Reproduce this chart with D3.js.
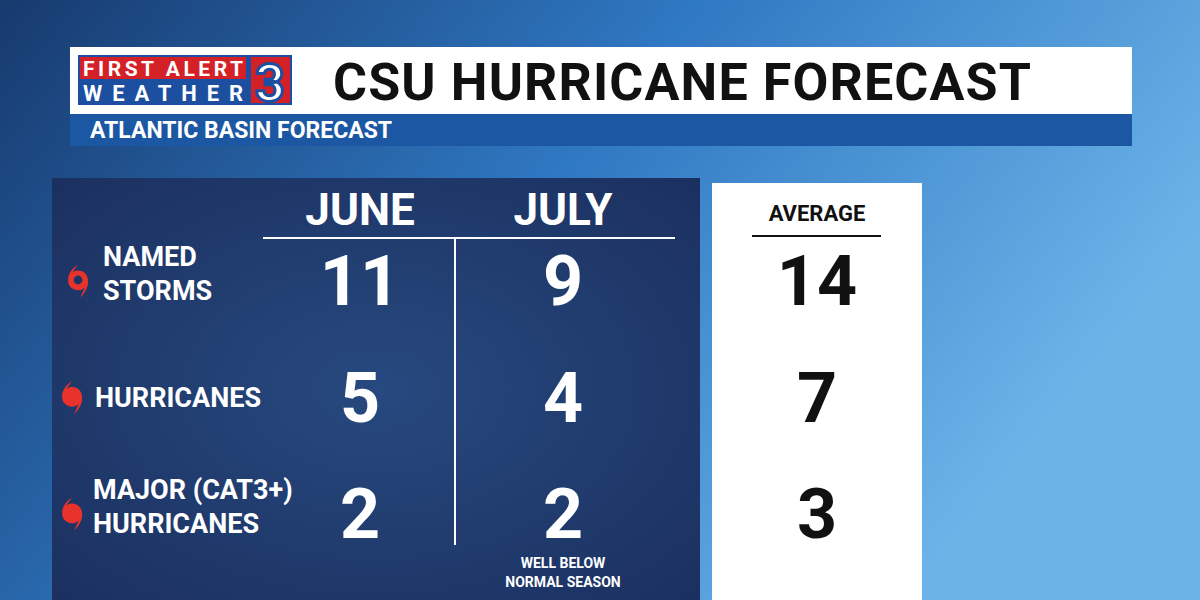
<!DOCTYPE html>
<html><head><meta charset="utf-8">
<script src="https://cdn.jsdelivr.net/npm/d3@7/dist/d3.min.js"></script>
<style>body{margin:0;overflow:hidden}svg{display:block}text{font-family:Roboto,"Open Sans",sans-serif;font-weight:700}</style>
</head><body><svg id="c" width="1200" height="600"></svg>
<script>
const categories = [["NAMED","STORMS"],["HURRICANES"],["MAJOR (CAT3+)","HURRICANES"]];
const columns = ["JUNE","JULY"];
const june = [11,5,2];
const july = [9,4,2];
const average = [14,7,3];
const note = ["WELL BELOW","NORMAL SEASON"];

const svg = d3.select("#c");
const defs = svg.append("defs");
const bg = defs.append("linearGradient").attr("id","bg").attr("x1",0).attr("x2",1).attr("y1",0).attr("y2",0.4);
bg.append("stop").attr("offset",0).attr("stop-color","#173a6e");
bg.append("stop").attr("offset",0.5).attr("stop-color","#2f78c2");
bg.append("stop").attr("offset",1).attr("stop-color","#6cb4e8");
const pn = defs.append("radialGradient").attr("id","pn").attr("cx",0.5).attr("cy",0.5).attr("r",0.7);
pn.append("stop").attr("offset",0).attr("stop-color","#27497f");
pn.append("stop").attr("offset",1).attr("stop-color","#1b3060");

svg.append("rect").attr("width",1200).attr("height",600).attr("fill","url(#bg)");
// header
svg.append("rect").attr("x",70).attr("y",47).attr("width",1062).attr("height",67).attr("fill","#fff");
svg.append("rect").attr("x",70).attr("y",114).attr("width",1062).attr("height",32).attr("fill","#1c57a3");
svg.append("text").attr("x",90).attr("y",138).attr("fill","#fff").attr("font-size",23).attr("font-weight",500).text("ATLANTIC BASIN FORECAST");
// logo
svg.append("rect").attr("x",78).attr("y",55).attr("width",214).attr("height",50).attr("fill","#1d4fa0");
svg.append("rect").attr("x",80).attr("y",57).attr("width",166).attr("height",22).attr("fill","#d42027");
svg.append("text").attr("x",83).attr("y",76).attr("fill","#fff").attr("font-size",21).attr("font-weight",900).attr("textLength",160).text("FIRST ALERT");
svg.append("text").attr("x",83).attr("y",101).attr("fill","#fff").attr("font-size",22).attr("font-weight",500).attr("textLength",160).text("WEATHER");
svg.append("rect").attr("x",251).attr("y",57).attr("width",39).attr("height",46).attr("fill","#d42027");
svg.append("text").attr("x",270).attr("y",101).attr("text-anchor","middle").attr("fill","#fff").attr("stroke","#1d4fa0").attr("stroke-width",3).attr("font-size",52).attr("font-weight",900).text("3");
svg.append("text").attr("x",333).attr("y",100).attr("fill","#111").attr("font-size",52).attr("textLength",698).text("CSU HURRICANE FORECAST");

// panels
svg.append("rect").attr("x",52).attr("y",178).attr("width",648).attr("height",422).attr("fill","url(#pn)");
svg.append("rect").attr("x",712).attr("y",183).attr("width",210).attr("height",417).attr("fill","#fff");

const x = d3.scalePoint().domain(columns).range([360,563]);
const y = d3.scalePoint().domain(d3.range(categories.length)).range([280,513]);

svg.selectAll(".hd").data(columns).join("text").attr("x",d=>x(d)).attr("y",225).attr("text-anchor","middle")
  .attr("fill","#fff").attr("font-size",44).text(d=>d);
svg.append("line").attr("x1",263).attr("x2",675).attr("y1",238).attr("y2",238).attr("stroke","#fff").attr("stroke-width",2);
svg.append("line").attr("x1",455).attr("x2",455).attr("y1",238).attr("y2",545).attr("stroke","#fff").attr("stroke-width",2);

const num = (data,col,fill,cx)=>svg.selectAll(".n"+col).data(data).join("text").attr("x",cx).attr("y",(d,i)=>y(i)+25)
  .attr("text-anchor","middle").attr("fill",fill).attr("font-size",70).text(d=>d);
num(june,"j","#fff",x("JUNE"));
num(july,"k","#fff",x("JULY"));
num(average,"a","#111",817);

svg.append("text").attr("x",817).attr("y",221).attr("text-anchor","middle").attr("fill","#111").attr("font-size",22).text("AVERAGE");
svg.append("line").attr("x1",752).attr("x2",881).attr("y1",236).attr("y2",236).attr("stroke","#111").attr("stroke-width",2);

svg.selectAll(".nt").data(note).join("text").attr("x",563).attr("y",(d,i)=>568+i*19).attr("text-anchor","middle")
  .attr("fill","#fff").attr("font-size",14).text(d=>d);

// labels
const icon = "M0,-14 C-6,-10 -9,-5 -9,0 A9,9 0 0 0 6,7 L2,16 C8,10 10,4 9,-1 A9,9 0 0 0 -5,-7 Z";
categories.forEach((c,i)=>{
  const cy = y(i);
  const lx = c.length>1 ? (i===0?103:93) : 95;
  const g = svg.append("g").attr("transform",`translate(${i===0?78:72},${cy}) scale(1.1)`);
  g.append("path").attr("d",icon).attr("fill","#e8322c");
  if(i===0) g.append("circle").attr("r",4).attr("fill","#1d3565");
  svg.selectAll(".l"+i).data(c).join("text").attr("x",lx).attr("y",(d,j)=>cy+(c.length>1?(j===0?-14:20):10))
    .attr("fill","#fff").attr("font-size",27).text(d=>d);
});
</script></body></html>
